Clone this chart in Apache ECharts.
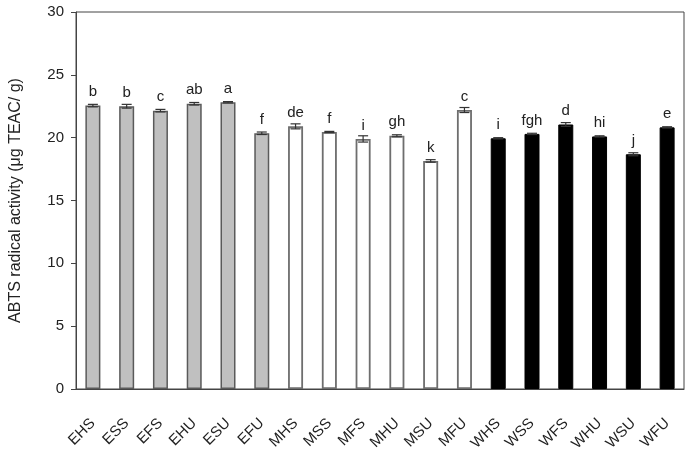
<!DOCTYPE html>
<html>
<head>
    <meta charset="UTF-8">
    <title>ABTS radical activity</title>
    <style>
        html, body { margin: 0; padding: 0; background: #fff; }
        #main { width: 689px; height: 451px; }
    </style>
</head>
<body>
<div id="main"></div>
<script src="https://cdn.jsdelivr.net/npm/echarts@6/dist/echarts.min.js"></script>
<script type="text/javascript">
    // 样品名称
    var categories = ['EHS', 'ESS', 'EFS', 'EHU', 'ESU', 'EFU',
        'MHS', 'MSS', 'MFS', 'MHU', 'MSU', 'MFU',
        'WHS', 'WSS', 'WFS', 'WHU', 'WSU', 'WFU'];
    // 平均值
    var values = [22.55, 22.5, 22.15, 22.7, 22.82, 20.35,
        20.9, 20.45, 19.9, 20.15, 18.15, 22.2,
        19.95, 20.3, 21.05, 20.1, 18.68, 20.82];
    // 误差
    var errors = [0.1, 0.15, 0.1, 0.1, 0.05, 0.1,
        0.2, 0.05, 0.25, 0.08, 0.1, 0.2,
        0.05, 0.05, 0.15, 0.05, 0.12, 0.05];
    // 显著性字母
    var letters = ['b', 'b', 'c', 'ab', 'a', 'f',
        'de', 'f', 'i', 'gh', 'k', 'c',
        'i', 'fgh', 'd', 'hi', 'j', 'e'];
    var yTicks = [0, 5, 10, 15, 20, 25, 30];

    var groupStyle = [
        {color: '#c0c0c0', borderColor: '#5a5a5a', borderWidth: 1.5},
        {color: '#ffffff', borderColor: '#6e6e6e', borderWidth: 1.8},
        {color: '#000000', borderColor: '#000000', borderWidth: 1}
    ];

    var barData = values.map(function (v, i) {
        return {value: v, itemStyle: groupStyle[Math.floor(i / 6)]};
    });
    var errData = values.map(function (v, i) {
        return [i, v - errors[i], v + errors[i]];
    });

    var myChart = echarts.init(document.getElementById('main'));
    var font = 'Liberation Sans, Arial, sans-serif';
    var option = {
        animation: false,
        grid: {
            left: 76, right: 5, top: 12, bottom: 62,
            outerBoundsMode: 'none',
            containLabel: false,
            show: true,
            borderColor: '#444',
            borderWidth: 1
        },
        xAxis: {
            type: 'category',
            data: categories,
            axisLine: {lineStyle: {color: '#444', width: 1}},
            axisTick: {show: false},
            axisLabel: {
                rotate: 45,
                margin: 32,
                color: '#222',
                fontSize: 15,
                fontFamily: font,
                interval: 0
            }
        },
        yAxis: {
            type: 'value',
            min: yTicks[0],
            max: yTicks[yTicks.length - 1],
            interval: 5,
            name: 'ABTS radical activity (μg TEAC/ g)',
            nameLocation: 'middle',
            nameGap: 52,
            nameTextStyle: {color: '#222', fontSize: 16, fontFamily: font},
            axisLine: {show: true, lineStyle: {color: '#444', width: 1}},
            axisTick: {show: true, inside: false, length: 5, lineStyle: {color: '#444'}},
            axisLabel: {color: '#222', fontSize: 15, fontFamily: font, margin: 12},
            splitLine: {show: false}
        },
        series: [
            {
                type: 'bar',
                barWidth: 15,
                data: barData,
                label: {
                    show: true,
                    position: 'top',
                    distance: 6,
                    color: '#222',
                    fontSize: 15,
                    fontFamily: font,
                    formatter: function (p) { return letters[p.dataIndex]; }
                },
                z: 2
            },
            {
                type: 'custom',
                data: errData,
                z: 3,
                renderItem: function (params, api) {
                    var lo = api.coord([api.value(0), api.value(1)]);
                    var hi = api.coord([api.value(0), api.value(2)]);
                    var w = 5;
                    var st = {stroke: '#333', lineWidth: 1.2};
                    return {
                        type: 'group',
                        children: [
                            {type: 'line', shape: {x1: hi[0], y1: hi[1], x2: lo[0], y2: lo[1]}, style: st},
                            {type: 'line', shape: {x1: hi[0] - w, y1: hi[1], x2: hi[0] + w, y2: hi[1]}, style: st},
                            {type: 'line', shape: {x1: lo[0] - w, y1: lo[1], x2: lo[0] + w, y2: lo[1]}, style: st}
                        ]
                    };
                }
            }
        ]
    };
    myChart.setOption(option);
</script>
</body>
</html>
